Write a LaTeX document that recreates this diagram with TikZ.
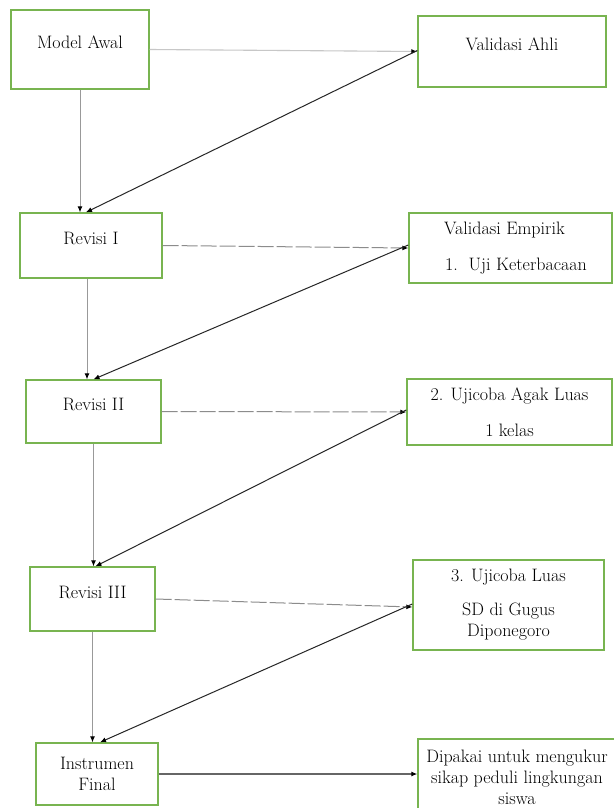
\documentclass[tikz,border=0pt]{standalone}
\usepackage{tikz}
\usetikzlibrary{arrows.meta}

\begin{document}
\begin{tikzpicture}[x=1pt,y=-1pt,
    box/.style={draw=boxgreen,line width=1.4pt,fill=white,inner sep=0pt,align=center,
        font=\fontsize{18}{21}\selectfont},
    onebox/.style={box,text depth=14pt},
    tip/.style={-{Latex[color=black,length=6pt,width=5pt]}},
    lgray/.style={tip,draw=black!22,line width=1.1pt},
    vgray/.style={tip,draw=black!40,line width=0.9pt},
    dgray/.style={tip,draw=black!45,line width=1pt,dash pattern=on 16pt off 3pt},
    mgray/.style={tip,draw=black!60,line width=1.1pt},
    dline/.style={tip,draw=black!85,line width=1pt}]
        \definecolor{boxgreen}{RGB}{120,180,80}
        \useasboundingbox [fill=white] (0,0) rectangle (613,808);
        \node [onebox,minimum width=138,minimum height=79] (ma) at (80,49.5) {Model Awal};
        \node [onebox,minimum width=188,minimum height=71] (va) at (512,51.5) {Validasi Ahli};
        \node [onebox,minimum width=142,minimum height=65] (r1) at (91,245.5) {Revisi I};
        \node [box,minimum width=203,minimum height=70,align=left] (ve) at (510.5,248) {\hspace*{10pt}Validasi Empirik\\[15pt]\hspace*{11pt}1.\ \ Uji Keterbacaan};
        \node [onebox,minimum width=135,minimum height=63] (r2) at (93.5,411.5) {Revisi II};
        \node [box,minimum width=205,minimum height=66] (ual) at (509.5,412) {2. Ujicoba Agak Luas\\[15pt]1 kelas};
        \node [onebox,minimum width=125,minimum height=64] (r3) at (92.5,599) {Revisi III};
        \node [box,minimum width=191,minimum height=90] (ul) at (508.5,605) {3. Ujicoba Luas\\[13pt]SD di Gugus\\Diponegoro};
        \node [box,minimum width=122,minimum height=62] (inf) at (97,774) {Instrumen\\Final};
        \node [box,minimum width=198,minimum height=76] (dp) at (517,777) {Dipakai untuk mengukur\\sikap peduli lingkungan\\siswa};
        \draw [lgray] (ma.east) -- (va.west);
        \draw [vgray] (ma.south) -- (ma.south |- r1.north);
        \draw [dline] ([yshift=1pt]va.west) -- ([xshift=-5pt]r1.north);
        \draw [dgray] (r1.east) -- (ve.west);
        \draw [vgray] ([xshift=-4pt]r1.south) -- ([xshift=-4pt]r1.south |- r2.north);
        \draw [dline] ([yshift=3pt]ve.west) -- (r2.north);
        \draw [dgray] (r2.east) -- (ual.west);
        \draw [vgray] (r2.south) -- (r2.south |- r3.north);
        \draw [dline] ([yshift=2pt]ual.west) -- ([xshift=3pt]r3.north);
        \draw [dgray] (r3.east) -- ([yshift=-2pt]ul.west);
        \draw [vgray] (r3.south) -- (r3.south |- inf.north);
        \draw [dline] ([yshift=1pt]ul.west) -- ([xshift=3pt]inf.north);
        \draw [mgray] (inf.east) -- (inf.east -| dp.west);
      \end{tikzpicture}
\end{document}
